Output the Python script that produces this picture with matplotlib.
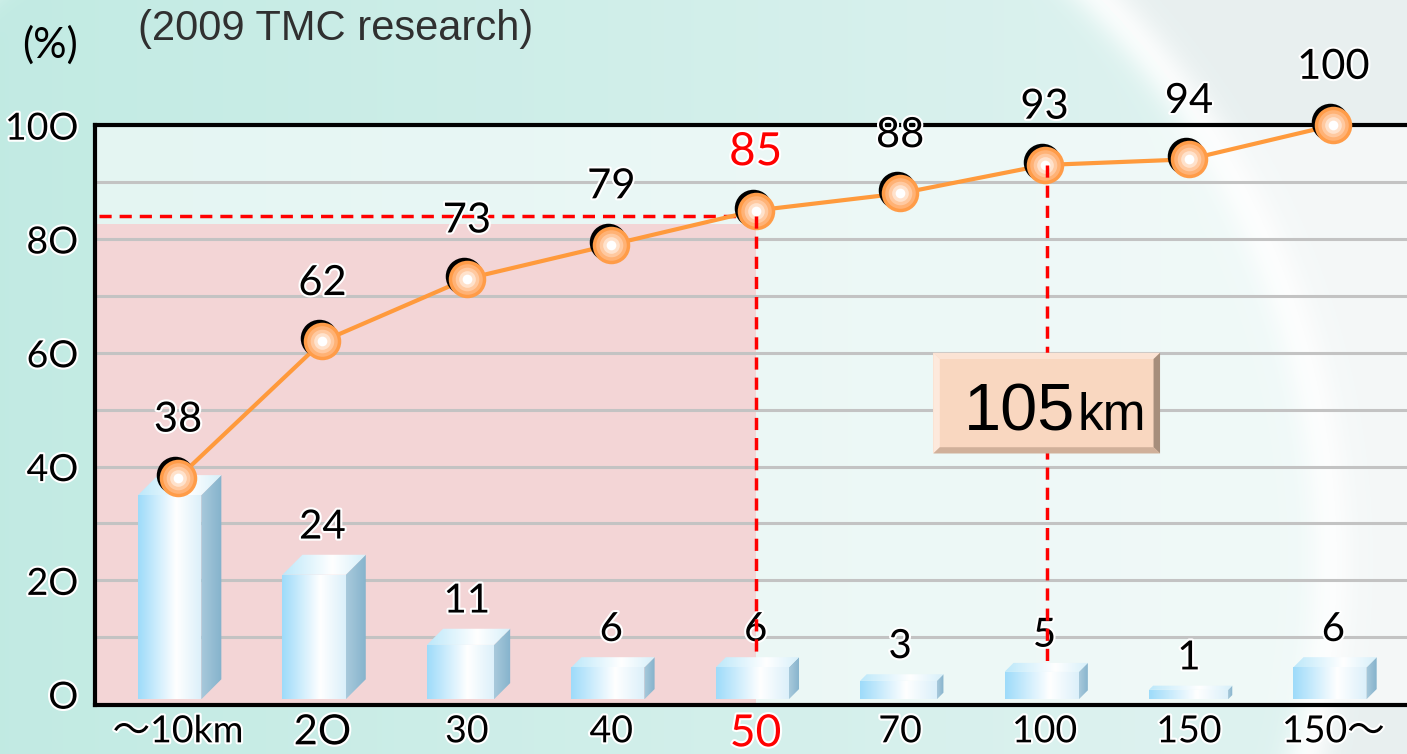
import numpy as np
import matplotlib
matplotlib.use("Agg")
import matplotlib.pyplot as plt
import matplotlib.patheffects as pe
from matplotlib.patches import Polygon, Rectangle
from matplotlib.transforms import offset_copy

# ---------- data ---------------------------------------------------------- #
categories   = ["〜10km", "2O", "30", "40", "50", "70", "100", "150", "150〜"]
shares       = [38, 24, 11, 6, 6, 3, 5, 1, 6]          # bars (%)
cumulative   = [38, 62, 73, 79, 85, 88, 93, 94, 100]   # line (%)
ytick_vals   = [0, 20, 40, 60, 80, 100]
ytick_labels = ["O", "2O", "4O", "6O", "8O", "10O"]
highlight_idx = 4      # 50km -> 85%
avg_idx       = 6      # 105km marker line
avg_num, avg_unit = "105", "km"
source_note = "(2009 TMC research)"
unit_label  = "(%)"

FONT = ["Lato", "Noto Sans CJK JP", "DejaVu Sans"]
ARIAL = ["Liberation Sans", "DejaVu Sans"]
RED = "#ff0000"
glow = [pe.withStroke(linewidth=3, foreground="white")]

fig = plt.figure(figsize=(14.07, 7.54), dpi=100)

# ---------- background ---------------------------------------------------- #
H, W = 754, 1407
yy, xx = np.mgrid[0:H, 0:W]
t = np.clip(xx / 1200, 0, 1)[..., None]
img = np.array([0.76, 0.92, 0.89]) * (1 - t) + np.array([0.87, 0.95, 0.94]) * t
d = np.hypot(xx - 530, yy - 560)
img = np.where((d > 800)[..., None], np.array([0.91, 0.94, 0.94]), img)
band = 0.8 * np.exp(-((d - 800) / 22) ** 2)[..., None]
img = img * (1 - band) + band
bg = fig.add_axes([0, 0, 1, 1])
bg.imshow(img, aspect="auto", extent=(0, W, H, 0))
bg.axis("off")
bg.set_zorder(0)

ax = fig.add_axes([0.0675, 0.065, 0.9325, 0.769])
ax.set_zorder(1)
ax.set_facecolor((1, 1, 1, 0.55))
XL, YL = (-0.575, 8.51), (-1.9, 100)

xs = np.arange(len(categories))

# pink zone up to the 50km column
ax.fill_between([XL[0], highlight_idx], YL[0], cumulative[highlight_idx] - 2.3,
                color="#f3d5d6", zorder=1, lw=0)

for g in range(10, 100, 10):
    ax.axhline(g, color="#c3c3c3", lw=2.2, zorder=1.5)


# ---------- 3D-ish bars --------------------------------------------------- #
def grad_patch(verts, stops, z):
    poly = Polygon(verts, closed=True, fc="none", ec="none", zorder=z)
    ax.add_patch(poly)
    pts = np.array(verts)
    cols = np.array([c for _, c in stops])
    pos = [p for p, _ in stops]
    u = np.linspace(0, 1, 64)
    row = np.stack([np.interp(u, pos, cols[:, k]) for k in range(3)], axis=-1)
    im = ax.imshow(row[None, :, :], aspect="auto", zorder=z,
                   extent=(pts[:, 0].min(), pts[:, 0].max(),
                           pts[:, 1].min(), pts[:, 1].max()))
    im.set_clip_path(poly)


FRONT = [(0, (0.62, 0.86, 0.98)), (0.6, (1, 1, 1)), (1, (0.86, 0.94, 0.98))]
SIDE = [(0, (0.66, 0.79, 0.86)), (1, (0.52, 0.70, 0.80))]
TOP = [(0, (0.74, 0.91, 0.98)), (0.6, (1, 1, 1)), (1, (0.84, 0.94, 0.98))]

base = -0.9
for i, v in enumerate(shares):
    dpx = min(20, 3 + 1.2 * v)
    dx, dy = dpx / 144.4, dpx / 5.69
    top = v + 0.5
    xl, xr = i - 0.277, i + 0.30 - dx
    grad_patch([(xl, base), (xr, base), (xr, top - dy), (xl, top - dy)], FRONT, 3)
    grad_patch([(xr, base), (xr + dx, base + dy), (xr + dx, top), (xr, top - dy)], SIDE, 3)
    grad_patch([(xl, top - dy), (xr, top - dy), (xr + dx, top), (xl + dx, top)], TOP, 3)
    if i > 0:
        ax.annotate(str(v), (i, v), xytext=(0, 22), textcoords="offset points",
                    ha="center", va="center", fontsize=29, family=FONT,
                    zorder=9, path_effects=glow)

# ---------- red guide lines ---------------------------------------------- #
dash = (0, (3.5, 2.3))
h_y = cumulative[highlight_idx] - 1
ax.plot([XL[0] + 0.03, highlight_idx], [h_y, h_y], color=RED, lw=2.5, ls=dash, zorder=4)
ax.plot([highlight_idx, highlight_idx], [h_y, shares[highlight_idx] + 1],
        color=RED, lw=2.5, ls=dash, zorder=9.5)
ax.plot([avg_idx + 0.02] * 2, [cumulative[avg_idx], shares[avg_idx] + 0.5],
        color=RED, lw=2.5, ls=dash, zorder=9.5)

# ---------- 105km box ---------------------------------------------------- #
x0, x1, y0, y1 = 5.23, 6.80, 42.3, 60.0
bx, by = 0.045, 1.1
ax.add_patch(Rectangle((x0, y0), x1 - x0, y1 - y0, fc="#f9d7c0", ec="none", zorder=10))
for verts, c in [
    ([(x0, y1), (x1, y1), (x1 - bx, y1 - by), (x0 + bx, y1 - by)], "#fbe3d4"),
    ([(x0, y0), (x0, y1), (x0 + bx, y1 - by), (x0 + bx, y0 + by)], "#fde9dc"),
    ([(x1, y0), (x1, y1), (x1 - bx, y1 - by), (x1 - bx, y0 + by)], "#a68e7c"),
    ([(x0, y0), (x1, y0), (x1 - bx, y0 + by), (x0 + bx, y0 + by)], "#d0b09a"),
]:
    ax.add_patch(Polygon(verts, closed=True, fc=c, ec="none", zorder=10.5))
ax.text(6.21, 46.4, avg_num, ha="right", va="baseline", fontsize=48,
        family=ARIAL, zorder=11)
ax.text(6.225, 46.4, avg_unit, ha="left", va="baseline", fontsize=37,
        family=ARIAL, zorder=11)

# ---------- cumulative line ---------------------------------------------- #
ax.plot(xs, cumulative, color="#ff9a3c", lw=3, zorder=6, clip_on=False)
shadow = offset_copy(ax.transData, fig=fig, x=-3, y=3, units="dots")
ax.plot(xs, cumulative, "o", ms=27, color="black", mec="none",
        transform=shadow, zorder=7, clip_on=False)
for ms, col in [(27, "#ff9c48"), (22, "#ffb275"), (17, "#ffc9a0"),
                (12, "#ffe2cc"), (7, "#ffffff")]:
    ax.plot(xs, cumulative, "o", ms=ms, color=col, mec="none", zorder=8,
            clip_on=False)

for i, v in enumerate(cumulative):
    hl = i == highlight_idx
    ax.annotate(str(v), (i, v), xytext=(0, 42), textcoords="offset points",
                ha="center", va="center", fontsize=33 if hl else 30,
                color=RED if hl else "black", family=FONT, zorder=12,
                path_effects=glow, annotation_clip=False)

# ---------- axes --------------------------------------------------------- #
ax.set_xlim(*XL)
ax.set_ylim(*YL)
ax.set_yticks(ytick_vals)
ax.set_yticklabels(ytick_labels, family=FONT, fontsize=27)
ax.set_xticks(xs)
ax.set_xticklabels(categories, family=FONT, fontsize=27)
for i, lab in enumerate(ax.get_xticklabels()):
    lab.set_path_effects(glow)
    if i == highlight_idx:
        lab.set_color(RED)
        lab.set_fontsize(32)
    if i == 1:
        lab.set_fontsize(30)
for lab in ax.get_yticklabels():
    lab.set_path_effects(glow)
ax.tick_params(axis="y", length=0, pad=12)
ax.tick_params(axis="x", length=0, pad=6)
for s in ["left", "top", "bottom"]:
    ax.spines[s].set_linewidth(3)
    ax.spines[s].set_color("black")
    ax.spines[s].set_zorder(5)
ax.spines["right"].set_visible(False)

fig.text(0.0156, 0.940, unit_label, fontsize=30, family=FONT, va="center")
fig.text(0.098, 0.961, source_note, fontsize=30, family=ARIAL,
         color="#303030", va="center")

fig.savefig("out.png", dpi=100)
